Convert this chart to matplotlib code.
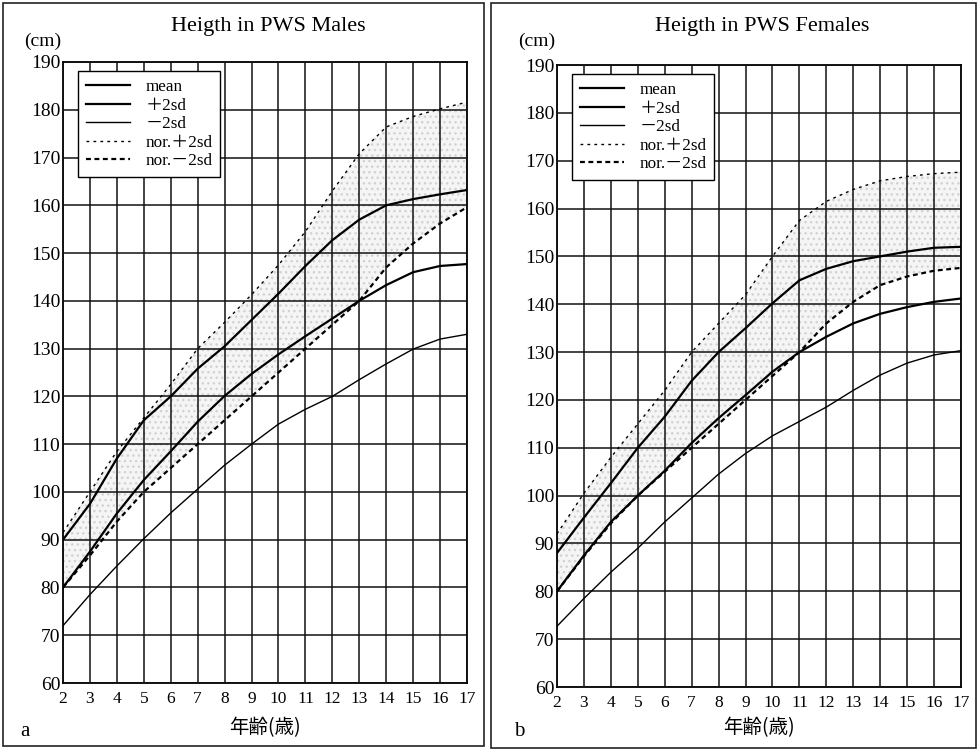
import matplotlib
matplotlib.use("Agg")
import matplotlib.pyplot as plt
from matplotlib.patches import Rectangle

# datos (altura en cm por edad)
ages = list(range(2, 18))

m_mean = [80, 87.5, 95.5, 102.5, 108.5, 114.7, 120.1, 124.7, 128.8, 132.6, 136.3, 140, 143.3, 146, 147.3, 147.7]
m_p2sd = [90, 97.5, 107, 115, 120, 125.8, 130.5, 136, 141.5, 147.3, 152.7, 157, 160, 161.3, 162.3, 163.2]
m_m2sd = [72, 78.5, 84.5, 90.2, 95.6, 100.6, 105.6, 110, 114.2, 117.3, 120, 123.5, 126.8, 129.9, 132, 133]
m_nor_p2sd = [91.5, 100, 108.5, 115.5, 122.5, 130, 135.5, 141.3, 147.5, 154.5, 163, 170.8, 176.4, 178.6, 180.2, 181.6]
m_nor_m2sd = [80, 86.7, 93.8, 100, 105, 110, 115, 120, 125, 130, 135, 140, 147, 152, 156.2, 159.6]

f_mean = [80, 87.5, 94.5, 100, 105.2, 111, 116.2, 121, 125.9, 130, 133.2, 136, 138, 139.4, 140.5, 141.2]
f_p2sd = [88, 95.4, 102.6, 110, 116.5, 124, 130, 135, 140.2, 145, 147.4, 149, 150, 151, 151.8, 152]
f_m2sd = [72.7, 78.5, 84, 89, 94.5, 99.5, 104.5, 108.8, 112.5, 115.5, 118.5, 122, 125.2, 127.7, 129.4, 130.3]
f_nor_p2sd = [92, 100.5, 108, 115, 122, 130, 136, 142, 150, 157.5, 161.5, 164, 165.8, 166.7, 167.3, 167.6]
f_nor_m2sd = [80, 87.3, 94.2, 100, 105, 110, 115, 120, 125, 130, 136, 140.5, 144, 145.8, 147, 147.6]

labels = ["mean", "＋2sd", "－2sd", "nor.＋2sd", "nor.－2sd"]
titles = ["Heigth in PWS Males", "Heigth in PWS Females"]
panel_letters = ["a", "b"]
y_ticks = list(range(60, 191, 10))

W, H = 978, 751
serif = ["Liberation Serif", "Noto Sans CJK JP"]
cjk = ["Noto Sans CJK JP", "DejaVu Sans"]

fig = plt.figure(figsize=(W / 100, H / 100), dpi=100)


def fx(px):
    return px / W


def fy(py):
    return 1 - py / H


# marcos de cada panel
for x0, x1, y0, y1 in [(3, 484, 3, 746), (491, 976, 3, 748)]:
    fig.add_artist(Rectangle((fx(x0), fy(y1)), fx(x1 - x0), (y1 - y0) / H,
                             fill=False, edgecolor="#222222", linewidth=1.2,
                             transform=fig.transFigure))

panels = [
    (63, 467, 62, 683, m_mean, m_p2sd, m_m2sd, m_nor_p2sd, m_nor_m2sd),
    (557, 961, 65, 687, f_mean, f_p2sd, f_m2sd, f_nor_p2sd, f_nor_m2sd),
]

for i, (x0, x1, y0, y1, mean, p2, m2, np2, nm2) in enumerate(panels):
    ax = fig.add_axes([fx(x0), fy(y1), fx(x1 - x0), (y1 - y0) / H])

    # zona normal punteada
    ax.fill_between(ages, nm2, np2, facecolor="#f5f5f5", edgecolor="#d2d2d2",
                    hatch="...", linewidth=0, zorder=1)

    ax.plot(ages, mean, color="black", lw=1.6, zorder=3, label=labels[0])
    ax.plot(ages, p2, color="black", lw=1.6, zorder=3, label=labels[1])
    ax.plot(ages, m2, color="black", lw=1.0, zorder=3, label=labels[2])
    ax.plot(ages, np2, color="black", lw=1.0, ls=(0, (2, 3)), zorder=3, label=labels[3])
    ax.plot(ages, nm2, color="black", lw=1.6, ls=(0, (2.2, 1.6)), zorder=3, label=labels[4])

    ax.set_xlim(2, 17)
    ax.set_ylim(60, 190)
    ax.set_xticks(ages)
    ax.set_yticks(y_ticks)
    ax.grid(True, color="#111111", linewidth=1.1, zorder=2)
    ax.set_axisbelow(False)
    for s in ax.spines.values():
        s.set_linewidth(1.3)
    ax.tick_params(length=0, pad=2)
    ax.tick_params(axis="x", pad=6)
    for t in ax.get_xticklabels():
        t.set_fontfamily(serif)
        t.set_fontsize(12.5)
    for t in ax.get_yticklabels():
        t.set_fontfamily(serif)
        t.set_fontsize(14)

    leg = ax.legend(loc="upper left", bbox_to_anchor=(0.037, 0.985),
                    prop={"family": serif, "size": 12.3}, frameon=True,
                    fancybox=False, edgecolor="black", framealpha=1,
                    labelspacing=0.15, handlelength=2.6, handletextpad=0.9,
                    borderpad=0.45, borderaxespad=0)
    leg.get_frame().set_linewidth(1.0)

    cx = (x0 + x1) / 2
    fig.text(fx(cx + 3), fy(27), titles[i], ha="center", va="center",
             family=serif, fontsize=16)
    fig.text(fx(x0 - 20), fy(41), "(cm)", ha="center", va="center",
             family=serif, fontsize=14)
    fig.text(fx(cx), fy(728), "年齢(歳)", ha="center", va="center",
             family=cjk, fontsize=14)
    fig.text(fx(x0 - 38), fy(732), panel_letters[i], ha="center", va="center",
             family=serif, fontsize=15)

plt.savefig("out.png", dpi=100)
